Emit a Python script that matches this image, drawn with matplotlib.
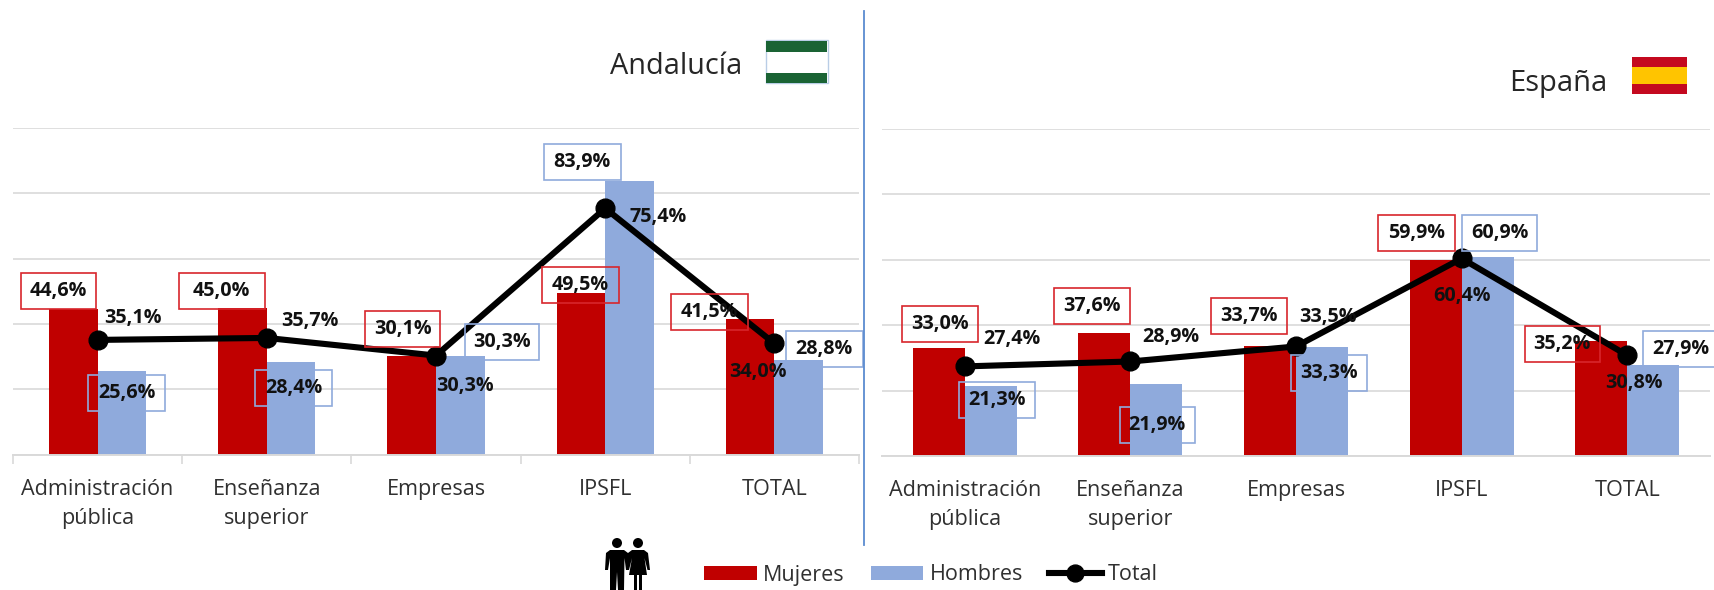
import matplotlib
matplotlib.use("Agg")
import matplotlib.pyplot as plt
import numpy as np
from matplotlib.patches import Rectangle, Polygon, Ellipse
from matplotlib.path import Path
from matplotlib.ticker import FixedLocator

plt.rcParams['font.family'] = ['Open Sans', 'DejaVu Sans']

categories = ["Administración\npública", "Enseñanza\nsuperior", "Empresas", "IPSFL", "TOTAL"]

and_mujeres = [44.6, 45.0, 30.1, 49.5, 41.5]
and_hombres = [25.6, 28.4, 30.3, 83.9, 28.8]
and_total = [35.1, 35.7, 30.3, 75.4, 34.0]

esp_mujeres = [33.0, 37.6, 33.7, 59.9, 35.2]
esp_hombres = [21.3, 21.9, 33.3, 60.9, 27.9]
esp_total = [27.4, 28.9, 33.5, 60.4, 30.8]

RED = "#c00000"
BLUE = "#8faadc"
RED_EDGE = "#d8262c"
BLUE_EDGE = "#8faadc"
GRID = "#d9d9d9"
TXT = "#303030"
W, H = 1715, 590

# Label offsets from the anchoring mark, pixels (x right, y up)
and_off_m = [(-39, 18), (-45, 17), (-33, 27), (-25, 8), (-65, 7)]
and_off_h = [(29, -22), (27, -26), (66, 14), (-23, 19), (50, 11)]
and_off_t = [(35, 22), (43, 17), (29, -30), (53, -9), (-16, -29)]
and_box_m = [75, 86, 75, 77, 77]
and_box_h = [77, 77, 74, 77, 77]
esp_off_m = [(-25, 24), (-38, 27), (-47, 30), (-45, 27), (-65, -3)]
esp_off_h = [(32, -14), (27, -41), (33, -26), (38, 24), (54, 16)]
esp_off_t = [(47, 27), (40, 24), (32, 29), (0, -38), (7, -28)]
esp_box_m = [76, 76, 76, 77, 75]
esp_box_h = [76, 75, 76, 75, 76]


def fixed_box(w, h):
    """Rectangle of a fixed pixel size centred on the text."""
    def style(x0, y0, width, height, mutation_size):
        cx, cy = x0 + width / 2, y0 + height / 2
        pts = [(cx - w / 2, cy - h / 2), (cx + w / 2, cy - h / 2),
               (cx + w / 2, cy + h / 2), (cx - w / 2, cy + h / 2),
               (cx - w / 2, cy - h / 2)]
        return Path(pts, closed=True)
    return style


def fmt(v):
    return f"{v:.1f}%".replace(".", ",")


def panel(rect, mujeres, hombres, total, bw, off_m, off_h, off_t, box_m, box_h, ticks):
    x0, x1, ytop, ybot = rect
    ax = fig.add_axes([x0 / W, 1 - ybot / H, (x1 - x0) / W, (ybot - ytop) / H])
    ax.patch.set_alpha(0)
    x = np.arange(len(categories))
    ax.bar(x - bw / 2, mujeres, bw, color=RED, zorder=2, label="Mujeres")
    ax.bar(x + bw / 2, hombres, bw, color=BLUE, zorder=2, label="Hombres")
    line, = ax.plot(x, total, color="black", lw=4.4, marker="o", ms=13.5, zorder=3, label="Total")
    ax.set_xlim(-0.5, 4.5)
    ax.set_ylim(0, 100)
    ax.set_yticks(range(0, 101, 20))
    ax.tick_params(axis="y", length=0, labelleft=False)
    ax.grid(axis="y", color=GRID, lw=1.2, zorder=0)
    ax.set_axisbelow(True)
    for s in ("top", "left", "right"):
        ax.spines[s].set_visible(False)
    ax.spines["bottom"].set_color(GRID)
    ax.spines["bottom"].set_linewidth(1.4)
    ax.set_xticks(x)
    ax.set_xticklabels(categories, fontsize=15.6, color=TXT, linespacing=1.52)
    ax.tick_params(axis="x", which="major", length=0, pad=17.3)
    if ticks:
        ax.xaxis.set_minor_locator(FixedLocator(np.arange(-0.5, 5, 1)))
        ax.tick_params(axis="x", which="minor", length=6.5, color=GRID, width=1.2)

    kw = dict(textcoords="offset pixels", ha="center", va="center", fontsize=14.2,
              fontweight="bold", color="#111111", zorder=5, annotation_clip=False)
    for i in x:
        ax.annotate(fmt(mujeres[i]), (i, mujeres[i]), xytext=off_m[i],
                    bbox=dict(boxstyle=fixed_box(box_m[i], 36), fc="none", ec=RED_EDGE, lw=1.2), **kw)
        ax.annotate(fmt(hombres[i]), (i, hombres[i]), xytext=off_h[i],
                    bbox=dict(boxstyle=fixed_box(box_h[i], 36), fc="none", ec=BLUE_EDGE, lw=1.2), **kw)
        ax.annotate(fmt(total[i]), (i, total[i]), xytext=off_t[i], **kw)
    return ax


fig = plt.figure(figsize=(W / 100, H / 100), dpi=100, facecolor="white")

ax1 = panel((13, 859, 128, 454.5), and_mujeres, and_hombres, and_total, 0.287,
            and_off_m, and_off_h, and_off_t, and_box_m, and_box_h, True)
ax2 = panel((882, 1710, 129, 456), esp_mujeres, esp_hombres, esp_total, 0.314,
            esp_off_m, esp_off_h, esp_off_t, esp_box_m, esp_box_h, False)

# Decoration layer in pixel coordinates
deco = fig.add_axes([0, 0, 1, 1], zorder=10)
deco.set_xlim(0, W)
deco.set_ylim(H, 0)
deco.axis("off")
deco.patch.set_alpha(0)

deco.plot([864.5, 864.5], [11, 545], color="#5b8bd0", lw=1.3)
deco.text(676.5, 67, "Andalucía", ha="center", va="center", fontsize=20.8, color="#262626")
deco.text(1558, 83, "España", ha="center", va="center", fontsize=21, color="#262626")

# Flags
deco.add_patch(Rectangle((766, 40), 62, 43, fc="white", ec="#b9cde6", lw=1))
deco.add_patch(Rectangle((766.5, 40.5), 61, 11.5, fc="#1a6334", ec="none"))
deco.add_patch(Rectangle((766.5, 72.5), 61, 10, fc="#1a6334", ec="none"))
deco.add_patch(Rectangle((632.5 + 1000, 56.5), 55, 37, fc="#c4091f", ec="none"))
deco.add_patch(Rectangle((632.5 + 1000, 67), 55, 17, fc="#ffc400", ec="none"))

# People pictogram
for cx in (617, 638):
    deco.add_patch(Ellipse((cx, 543), 10, 10, fc="black", ec="none"))
deco.add_patch(Polygon([(610, 550), (624, 550), (628, 553), (628.5, 570), (626, 570), (624.5, 558),
                        (624, 590), (618, 590), (617, 572), (616, 590), (610, 590), (610, 558),
                        (608, 570), (605, 570), (606, 553)], closed=True, fc="black", ec="none"))
deco.add_patch(Polygon([(632, 550), (644, 550), (648, 553), (650, 570), (647.5, 570), (644.5, 558),
                        (647, 575), (642, 575), (642, 590), (639, 590), (639, 575), (637, 575),
                        (637, 590), (634, 590), (634, 575), (629, 575), (632, 558), (629, 570),
                        (627, 570), (628, 553)], closed=True, fc="black", ec="none"))

handles, labels = ax1.get_legend_handles_labels()
order = [labels.index(n) for n in ("Mujeres", "Hombres", "Total")]
fig.legend([handles[i] for i in order], [labels[i] for i in order], ncol=3, loc="center",
           bbox_to_anchor=(931 / W, 1 - 575 / H), frameon=False, fontsize=15.5,
           labelcolor=TXT, handlelength=2.45, handleheight=0.65, handletextpad=0.3,
           columnspacing=1.2, borderpad=0, borderaxespad=0, labelspacing=0, markerscale=0.9)

fig.savefig("out.png", dpi=100, facecolor="white")
